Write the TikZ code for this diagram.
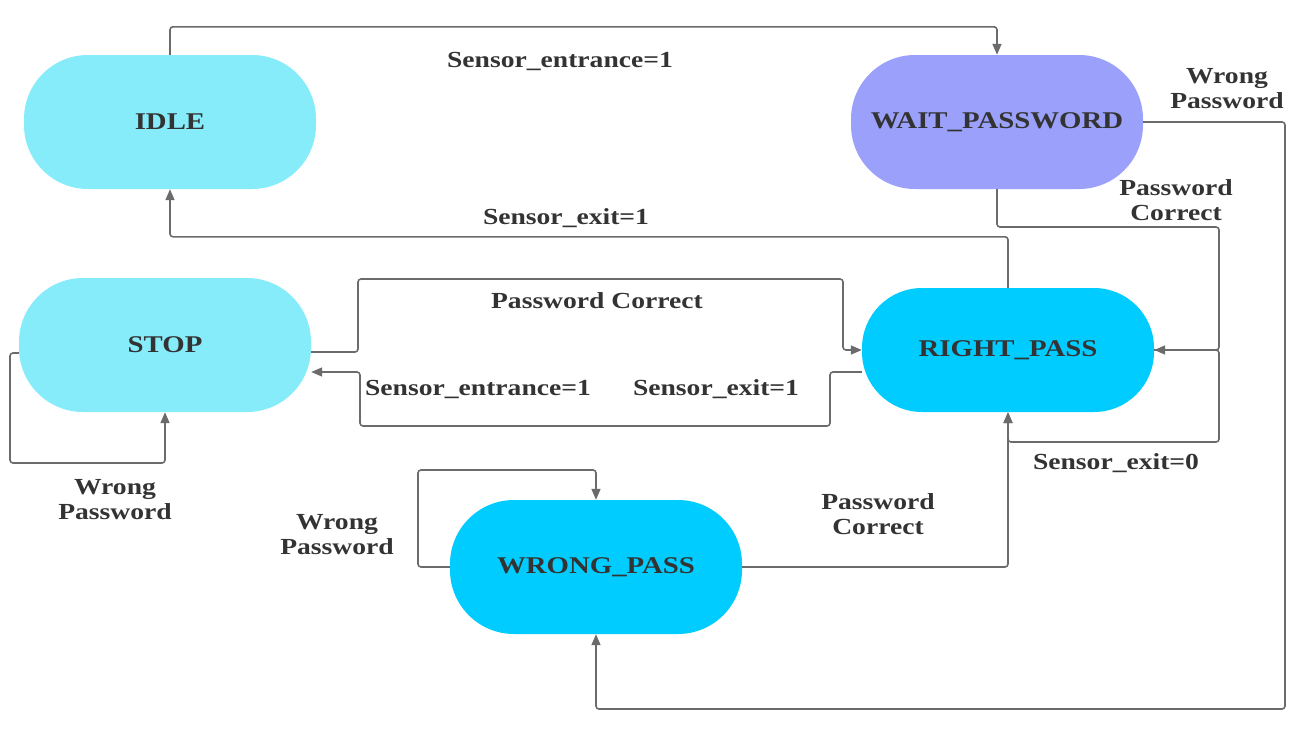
\documentclass[tikz,border=0pt]{standalone}
\usepackage{fontspec}
\setmainfont{Liberation Serif}[FakeStretch=1.2]
\usetikzlibrary{arrows.meta}
\definecolor{lightcyan}{HTML}{86ECFA}
\definecolor{waitblue}{HTML}{9BA0FA}
\definecolor{deepcyan}{HTML}{00CCFF}
\definecolor{wiregray}{HTML}{6B6B6B}
\definecolor{inkgray}{HTML}{333333}
\begin{document}
\begin{tikzpicture}[x=1pt,y=-1pt,
    state/.style={rounded corners=64pt, minimum width=292pt, minimum height=134pt,
      font=\bfseries\fontsize{24}{26}\selectfont, text=inkgray},
    trans/.style={draw=wiregray, line width=1.6pt, rounded corners=3pt,
      -{Triangle[length=11pt,width=9pt]}},
    lbl/.style={font=\bfseries\fontsize{23}{25}\selectfont, text=inkgray, align=center, inner sep=0pt}]
  \useasboundingbox (0,0) rectangle (1299,731);
  % states
  \node[state, fill=lightcyan] (idle) at (170,122) {IDLE};
  \node[state, fill=waitblue] (wait) at (997,122) {WAIT\_PASSWORD};
  \node[state, fill=lightcyan] (stop) at (165,345) {STOP};
  \node[state, fill=deepcyan, minimum height=124pt, rounded corners=60pt] (rightpass) at (1008,350) {RIGHT\_PASS};
  \node[state, fill=deepcyan] (wrongpass) at (596,567) {WRONG\_PASS};
  % transitions
  \draw[trans] (idle.north) -- ++(0,-28) -| (wait.north);
  \draw[trans] (rightpass.north) -- ++(0,-51) -| (idle.south);
  \draw[trans] (wait.south) |- (1219,227) |- (rightpass.east);
  \draw[trans] (wait.east) -| (1285,709) -| (wrongpass.south);
  \draw[trans] (rightpass.east) -| (1219,442) -| (rightpass.south);
  \draw[trans] (wrongpass.east) -| (rightpass.south);
  \draw[trans] (wrongpass.west) -| (418,470) -| (wrongpass.north);
  \draw[trans] ([yshift=-7pt]stop.east) -| (358,279) -| (843,350) -- (rightpass.west);
  \draw[trans] ([yshift=-22pt]rightpass.west) -| (830,426) -| (360,372) -- ([yshift=-27pt]stop.east);
  \draw[trans] ([yshift=-8pt]stop.west) -| (10,463) -| (stop.south);
  % labels
  \node[lbl] (l1) at (560,61) {Sensor\_entrance=1};
  \node[lbl] (l2) at (566,218) {Sensor\_exit=1};
  \node[lbl] (l3) at (1227,89) {Wrong\\Password};
  \node[lbl] (l4) at (1176,200) {Password\\Correct};
  \node[lbl] (l5) at (597,301) {Password Correct};
  \node[lbl] (l6) at (478,389) {Sensor\_entrance=1};
  \node[lbl] (l7) at (716,389) {Sensor\_exit=1};
  \node[lbl] (l8) at (1116,463) {Sensor\_exit=0};
  \node[lbl] (l9) at (878,514) {Password\\Correct};
  \node[lbl] (l10) at (337,535) {Wrong\\Password};
  \node[lbl] (l11) at (115,500) {Wrong\\Password};
\end{tikzpicture}
\end{document}
